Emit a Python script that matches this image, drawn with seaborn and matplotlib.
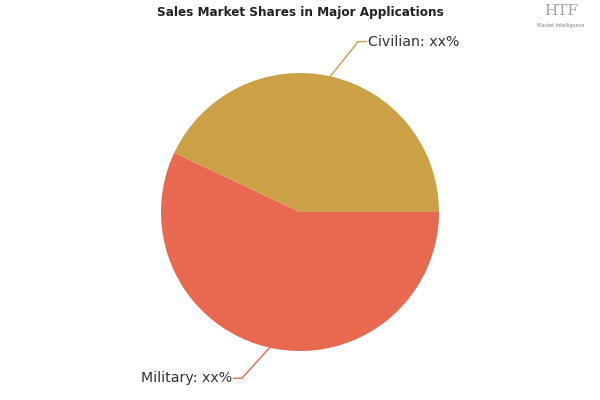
import numpy as np
import matplotlib
matplotlib.use('Agg')
import matplotlib.pyplot as plt
import seaborn as sns

sns.set_theme(style='white')
plt.rcParams['font.family'] = ['DejaVu Sans']

TITLE = 'Sales Market Shares in Major Applications'
segments = ['Military', 'Civilian']
shares = [57, 43]
labels = ['Military: xx%', 'Civilian: xx%']
colors = ['#E8694F', '#CBA046']


def main():
    fig = plt.figure(figsize=(6, 4), dpi=100)
    r_px = 139
    cx, cy = 300, 212
    ax = fig.add_axes([(cx - r_px) / 600, (400 - cy - r_px) / 400, 2 * r_px / 600, 2 * r_px / 400])
    wedges, _ = ax.pie(shares, colors=colors, startangle=0, counterclock=False,
                       radius=1, wedgeprops=dict(linewidth=0))
    ax.set_xlim(-1, 1)
    ax.set_ylim(-1, 1)
    ax.set_aspect('equal')
    ax.axis('off')

    # leader lines + labels
    for w, lab, col in zip(wedges, labels, colors):
        mid = np.deg2rad((w.theta1 + w.theta2) / 2)
        x0, y0 = np.cos(mid), np.sin(mid)
        if x0 >= 0:
            ex, ey = x0 + 0.2, y0 + 0.25
            tx = ex + 0.06
            ha = 'left'
        else:
            ex, ey = x0 - 0.2, y0 - 0.22
            tx = ex - 0.06
            ha = 'right'
        ax.plot([x0, ex, tx], [y0, ey, ey], color=col, lw=1, clip_on=False)
        ax.text(tx + (0.01 if ha == 'left' else -0.01), ey, lab, ha=ha, va='center',
                fontsize=10.2, color='#333333', clip_on=False)

    fig.text(0.5, 0.968, TITLE, ha='center', va='center', fontsize=9.6,
             fontweight='bold', fontstretch='condensed', color='#222222')
    fig.text(0.935, 0.972, 'HTF', ha='center', va='center', fontsize=11,
             color='#9aa3ad', family='DejaVu Serif')
    fig.text(0.935, 0.935, 'Market Intelligence', ha='center', va='center',
             fontsize=3.5, color='#7a8590')

    fig.savefig('out.png', dpi=100, facecolor='white')
    plt.close(fig)


if __name__ == '__main__':
    main()
